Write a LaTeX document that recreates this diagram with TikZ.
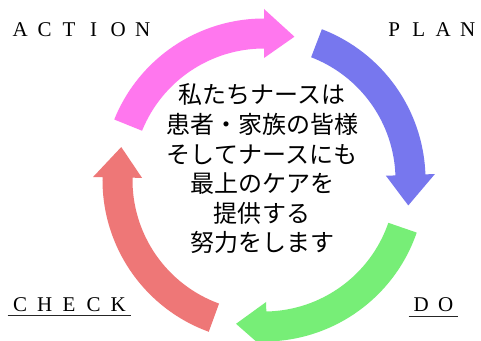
\documentclass[tikz,border=0pt]{standalone}
\usepackage{fontspec}
\setmainfont{Liberation Serif}
\newfontfamily\jafont{Noto Sans CJK JP}
\usetikzlibrary{calc}

\definecolor{actpink}{HTML}{FF77EE}
\definecolor{planblue}{HTML}{7777EE}
\definecolor{dogreen}{HTML}{77EE77}
\definecolor{checkred}{HTML}{EE7777}

\makeatletter
\newcommand\spreadtext[1]{\@tfor\ch:=#1\do{\makebox[24.5pt]{\ch}}}
\makeatother

% ring arrow: colour, tail angle, tip angle
\newcommand\ringarrow[3]{%
  \fill[#1] (#2:161.5pt) arc[start angle=#2, end angle=#3+12, radius=161.5pt]
    -- (#3+12:171pt) -- (#3:146.5pt) -- (#3+12:122pt)
    -- (#3+12:131.5pt) arc[start angle=#3+12, end angle=#2, radius=131.5pt] -- cycle;}

\begin{document}
\begin{tikzpicture}[x=1pt, y=1pt,
    stage/.style={font=\fontsize{21}{21}\selectfont, inner sep=0pt, anchor=base west},
    underline/.style={line width=1.1pt, black!85}]
    \useasboundingbox[fill=white] (-264,-160) rectangle (217,180);

    \ringarrow{actpink}{158}{78}
    \ringarrow{planblue}{69}{-10}
    \ringarrow{dogreen}{-19}{-101}
    \ringarrow{checkred}{-110}{-193}

    \node[font=\jafont\fontsize{24}{29.6}\selectfont, align=center] (motto) at (-2,11)
        {私たちナースは\\患者・家族の皆様\\そしてナースにも\\最上のケアを\\提供する\\努力をします};

    \node[stage] (action) at (-256.3,143) {\spreadtext{ACTION}};
    \node[stage] (plan) at (117.8,143) {\spreadtext{PLAN}};
    \node[stage] (check) at (-256.3,-131.7) {\spreadtext{CHECK}};
    \node[stage] (do) at (144.7,-131.7) {\spreadtext{DO}};

    \draw[underline] ([yshift=-3.5pt]check.base west) -- ([yshift=-3.5pt]check.base east);
    \draw[underline] ([yshift=-4.5pt]do.base west) -- ([yshift=-4.5pt]do.base east);
\end{tikzpicture}
\end{document}
